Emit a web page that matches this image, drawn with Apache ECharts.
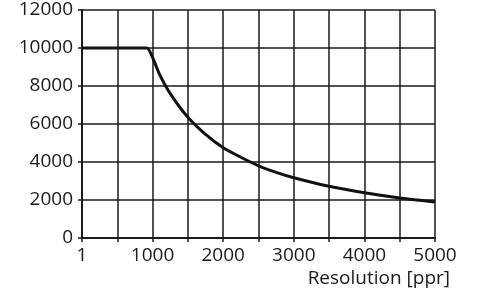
<!DOCTYPE html>
<html>
<head>
<meta charset="utf-8">
<style>
  html, body { margin: 0; padding: 0; background: #fff; }
  #chart { width: 486px; height: 294px; }
</style>
<script src="https://cdn.jsdelivr.net/npm/echarts@6/dist/echarts.min.js"></script>
</head>
<body>
<div id="chart"></div>
<script>
// resolution [ppr] -> max speed
const resolution = [1, 920, 1000, 1100, 1250, 1500, 1750, 2000, 2250, 2500, 2750, 3000, 3500, 4000, 4500, 5000]
const speed = [10000, 10000, 9500, 8600, 7600, 6350, 5450, 4750, 4250, 3800, 3450, 3170, 2720, 2380, 2110, 1900]
const xLabels = ['1', '1000', '2000', '3000', '4000', '5000']

const chart = echarts.init(document.getElementById('chart'), null, { renderer: 'canvas' })

const ink = '#1a1a1a'
const font = '"Open Sans", sans-serif'

const option = {
  animation: false,
  title: {
    text: 'Resolution [ppr]',
    right: 31,
    top: 264,
    textStyle: { fontFamily: font, fontSize: 19, fontWeight: 'normal', color: ink },
  },
  grid: {
    left: 82,
    right: 51,
    top: 10,
    bottom: 56,
    containLabel: false,
    outerBoundsMode: 'none',
  },
  xAxis: {
    type: 'value',
    min: 0,
    max: 5000,
    interval: 500,
    axisLine: { show: true, lineStyle: { color: ink, width: 2 } },
    axisTick: { show: true, length: 4, lineStyle: { color: ink, width: 1.5 } },
    splitLine: { show: true, lineStyle: { color: ink, width: 1.5 } },
    axisLabel: {
      color: ink,
      fontFamily: font,
      fontSize: 19,
      margin: 8,
      formatter: (v) => {
        if (v % 1000 !== 0) return ''
        return xLabels[v / 1000]
      },
    },
  },
  yAxis: {
    type: 'value',
    min: 0,
    max: 12000,
    interval: 2000,
    axisLine: { show: true, lineStyle: { color: ink, width: 2 } },
    axisTick: { show: true, length: 4, lineStyle: { color: ink, width: 1.5 } },
    splitLine: { show: true, lineStyle: { color: ink, width: 1.5 } },
    axisLabel: { color: ink, fontFamily: font, fontSize: 19, margin: 9, formatter: (v) => String(v) },
  },
  series: [
    {
      type: 'line',
      data: resolution.map((r, i) => [r, speed[i]]),
      showSymbol: false,
      smooth: 0.2,
      lineStyle: { color: '#111', width: 3 },
    },
  ],
}
chart.setOption(option)
</script>
</body>
</html>
